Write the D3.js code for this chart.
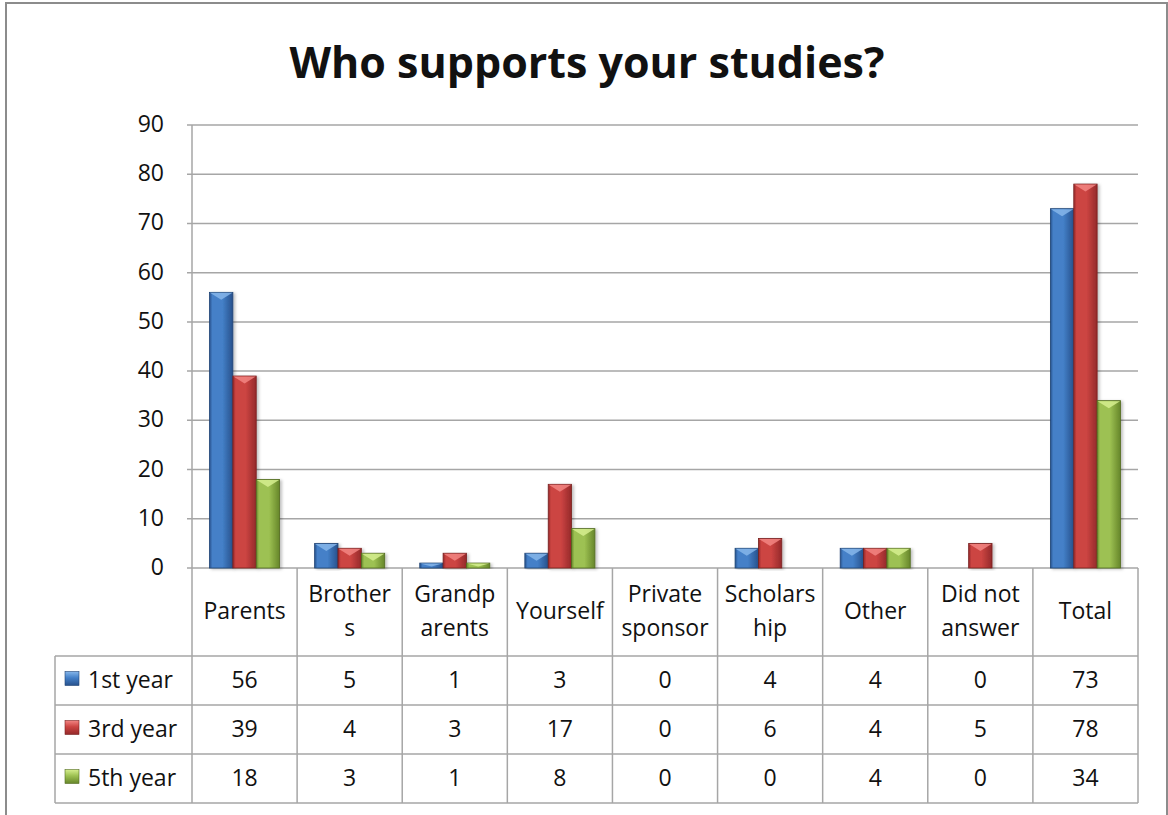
<!DOCTYPE html>
<meta charset="utf-8">
<script src="https://d3js.org/d3.v7.min.js"></script>
<style>
  body { margin: 0; background: #fff; }
  text { font-family: "Open Sans", sans-serif; fill: #111; }
</style>
<div id="chart"></div>
<script>
// data
var categories = ["Parents", "Brothers", "Grandparents", "Yourself", "Private sponsor",
                  "Scholarship", "Other", "Did not answer", "Total"];
// how the category names wrap in the table header
var categoryLines = [["Parents"], ["Brother", "s"], ["Grandp", "arents"], ["Yourself"],
                     ["Private", "sponsor"], ["Scholars", "hip"], ["Other"],
                     ["Did not", "answer"], ["Total"]];
var seriesNames = ["1st year", "3rd year", "5th year"];
var firstYear = [56, 5, 1, 3, 0, 4, 4, 0, 73];
var thirdYear = [39, 4, 3, 17, 0, 6, 4, 5, 78];
var fifthYear = [18, 3, 1, 8, 0, 0, 4, 0, 34];
var yTicks = [0, 10, 20, 30, 40, 50, 60, 70, 80, 90];
var titleText = "Who supports your studies?";

var seriesValues = [firstYear, thirdYear, fifthYear];
// edge, middle, bevel colours for each series
var palette = [
  {edge: "#27518c", mid: "#4480c8", bevel: "#86b6ea", dark: "#1f4475"},
  {edge: "#94292a", mid: "#cc4442", bevel: "#f28583", dark: "#782120"},
  {edge: "#66862a", mid: "#9dc152", bevel: "#d6ef8f", dark: "#526b20"}
];

var W = 1168, H = 815;
var plot = {left: 192, right: 1138, top: 125, bottom: 568};
var table = {left: 55, header: 656, rowH: 49};
var fontSize = "23px";

var svg = d3.select("#chart").append("svg")
  .attr("width", W).attr("height", H);

var defs = svg.append("defs");
palette.forEach(function(p, i) {
  var g = defs.append("linearGradient").attr("id", "bar" + i)
    .attr("x1", 0).attr("x2", 1).attr("y1", 0).attr("y2", 0);
  g.append("stop").attr("offset", "0").attr("stop-color", p.edge);
  g.append("stop").attr("offset", "0.12").attr("stop-color", p.mid);
  g.append("stop").attr("offset", "0.55").attr("stop-color", p.mid);
  g.append("stop").attr("offset", "1").attr("stop-color", p.edge);
  var k = defs.append("linearGradient").attr("id", "key" + i)
    .attr("x1", 0).attr("x2", 0).attr("y1", 0).attr("y2", 1);
  k.append("stop").attr("offset", "0").attr("stop-color", p.bevel);
  k.append("stop").attr("offset", "0.45").attr("stop-color", p.mid);
  k.append("stop").attr("offset", "1").attr("stop-color", p.edge);
});
var shadow = defs.append("filter").attr("id", "shadow")
  .attr("x", "-20%").attr("y", "-5%").attr("width", "150%").attr("height", "115%");
shadow.append("feDropShadow").attr("dx", 2).attr("dy", 1)
  .attr("stdDeviation", 1.5).attr("flood-color", "#000").attr("flood-opacity", 0.25);

// outer frame
svg.append("rect")
  .attr("x", 6).attr("y", 3).attr("width", 1161).attr("height", 840)
  .attr("fill", "none").attr("stroke", "#8c8c8c").attr("stroke-width", 2);

// title
svg.append("text")
  .attr("x", 587).attr("y", 61)
  .attr("text-anchor", "middle").attr("dominant-baseline", "central")
  .style("font-size", "43px").style("font-weight", "bold")
  .text(titleText);

// scales
var x = d3.scaleBand().domain(categories).range([plot.left, plot.right])
  .paddingInner(0).paddingOuter(0);
var xs = d3.scaleBand().domain(seriesNames).range([0, x.bandwidth()])
  .paddingInner(0).paddingOuter(0.75);
var y = d3.scaleLinear().domain([0, 90]).range([plot.bottom, plot.top]);

var gridColor = "#a6a6a6";

// gridlines and y labels
svg.append("g").selectAll("line").data(yTicks).join("line")
  .attr("x1", plot.left - 5).attr("x2", plot.right)
  .attr("y1", function(d) { return y(d); }).attr("y2", function(d) { return y(d); })
  .attr("stroke", gridColor).attr("stroke-width", 1.5);
svg.append("line")
  .attr("x1", plot.left).attr("x2", plot.left)
  .attr("y1", plot.top).attr("y2", plot.bottom)
  .attr("stroke", gridColor).attr("stroke-width", 1.5);
svg.append("g").selectAll("text").data(yTicks).join("text")
  .attr("x", 164).attr("y", function(d) { return y(d) - 2; })
  .attr("text-anchor", "end").attr("dominant-baseline", "central")
  .style("font-size", fontSize)
  .text(function(d) { return d; });

// bars
var barData = [];
seriesValues.forEach(function(vals, si) {
  vals.forEach(function(v, ci) {
    if (v > 0) barData.push({s: si, c: categories[ci], v: v});
  });
});
var bars = svg.append("g").selectAll("g").data(barData).join("g")
  .attr("filter", "url(#shadow)");
bars.append("rect")
  .attr("x", function(d) { return x(d.c) + xs(seriesNames[d.s]); })
  .attr("y", function(d) { return y(d.v); })
  .attr("width", xs.bandwidth())
  .attr("height", function(d) { return y(0) - y(d.v); })
  .attr("fill", function(d) { return "url(#bar" + d.s + ")"; })
  .attr("stroke", function(d) { return palette[d.s].dark; })
  .attr("stroke-width", 0.8);
// top bevel
bars.append("path")
  .attr("d", function(d) {
    var x0 = x(d.c) + xs(seriesNames[d.s]) + 0.5, w = xs.bandwidth() - 1;
    var top = y(d.v) + 0.5;
    var bh = Math.min(7, (y(0) - y(d.v)) * 0.6);
    return "M" + x0 + "," + top + "L" + (x0 + w) + "," + top +
      "L" + (x0 + w * 0.5) + "," + (top + bh) + "Z";
  })
  .attr("fill", function(d) { return palette[d.s].bevel; })
  .attr("opacity", 0.85);

// data table lines
var rowTops = seriesNames.map(function(s, i) { return table.header + i * table.rowH; });
var tableBottom = table.header + seriesNames.length * table.rowH;
var tl = svg.append("g").attr("stroke", gridColor).attr("stroke-width", 1.5);
var bounds = categories.map(function(c) { return x(c); }).concat([plot.right]);
tl.selectAll("line.v").data(bounds).join("line")
  .attr("x1", function(d) { return d; }).attr("x2", function(d) { return d; })
  .attr("y1", plot.bottom).attr("y2", tableBottom);
tl.selectAll("line.h").data(rowTops.concat([tableBottom])).join("line")
  .attr("x1", table.left).attr("x2", plot.right)
  .attr("y1", function(d) { return d; }).attr("y2", function(d) { return d; });
tl.append("line")
  .attr("x1", table.left).attr("x2", table.left)
  .attr("y1", table.header).attr("y2", tableBottom);

// category header
var headMid = (plot.bottom + table.header) / 2 - 2;
categories.forEach(function(c, i) {
  var lines = categoryLines[i];
  lines.forEach(function(t, j) {
    svg.append("text")
      .attr("x", x(c) + x.bandwidth() / 2)
      .attr("y", headMid + (j - (lines.length - 1) / 2) * 34)
      .attr("text-anchor", "middle").attr("dominant-baseline", "central")
      .style("font-size", fontSize)
      .text(t);
  });
});

// legend column and values
seriesNames.forEach(function(s, si) {
  var cy = rowTops[si] + table.rowH / 2 - 2;
  svg.append("rect")
    .attr("x", 65).attr("y", cy - 7).attr("width", 14).attr("height", 14)
    .attr("fill", "url(#key" + si + ")")
    .attr("stroke", palette[si].dark).attr("stroke-width", 0.6);
  svg.append("text")
    .attr("x", 88).attr("y", cy)
    .attr("dominant-baseline", "central")
    .style("font-size", fontSize)
    .text(s);
  svg.append("g").selectAll("text").data(seriesValues[si]).join("text")
    .attr("x", function(d, ci) { return x(categories[ci]) + x.bandwidth() / 2; })
    .attr("y", cy)
    .attr("text-anchor", "middle").attr("dominant-baseline", "central")
    .style("font-size", fontSize)
    .text(function(d) { return d; });
});
</script>
